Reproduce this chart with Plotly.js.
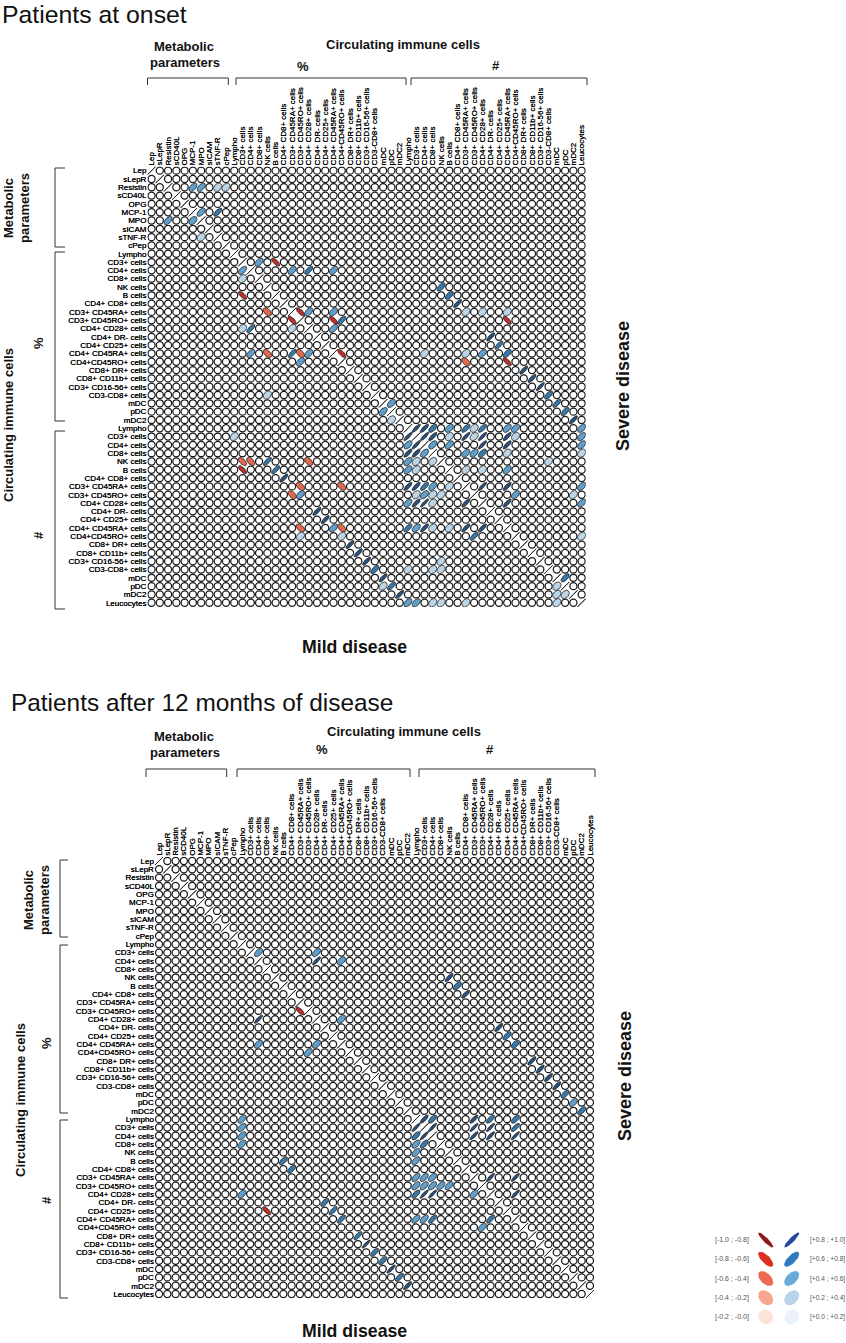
<!DOCTYPE html>
<html>
<head>
<meta charset="utf-8">
<script src="https://cdn.plot.ly/plotly-3.0.1.min.js"></script>
<style>html,body{margin:0;padding:0;background:#fff}#chart{width:846px;height:1343px}</style>
</head>
<body>
<div id="chart"></div>
<script>
var metabolicLabels = ['Lep','sLepR','Resistin','sCD40L','OPG','MCP-1','MPO','sICAM','sTNF-R','cPep'];
var cellLabels = ['Lympho','CD3+ cells','CD4+ cells','CD8+ cells','NK cells','B cells','CD4+ CD8+ cells',
  'CD3+ CD45RA+ cells','CD3+ CD45RO+ cells','CD4+ CD28+ cells','CD4+ DR- cells','CD4+ CD25+ cells',
  'CD4+ CD45RA+ cells','CD4+CD45RO+ cells','CD8+ DR+ cells','CD8+ CD11b+ cells','CD3+ CD16-56+ cells',
  'CD3-CD8+ cells','mDC','pDC','mDC2'];
var lastLabel = ['Leucocytes'];
var allLabels = metabolicLabels.concat(cellLabels, cellLabels, lastLabel);

// [row, column, correlation]: every other off-diagonal cell reads as an empty circle
var onsetCells = [
 [2,5,.55],[2,6,.55],[2,8,.3],[2,9,.3],[5,6,.55],[5,8,.7],[6,2,.55],[6,5,.4],[8,6,.3],
 [11,13,.5],[11,15,-.72],[12,11,.55],[12,17,.5],[12,19,.7],[12,22,.5],[13,11,.3],[15,11,-.72],
 [17,14,-.5],[17,18,-.72],[17,19,.5],[17,22,.5],[18,17,-.72],[18,22,-.72],[18,23,.65],
 [19,11,.3],[19,12,.75],[19,17,.3],[19,22,.55],[22,12,.55],[22,14,-.5],[22,17,.75],[22,18,-.5],
 [22,19,.5],[22,23,-.72],[23,18,.5],[27,14,.3],
 [14,35,.6],[15,36,.6],[16,37,.8],[17,38,.3],[17,40,.3],[17,43,.3],[18,43,-.72],[20,41,.8],[21,42,.75],
 [22,33,.3],[22,38,.3],[22,40,.5],[22,43,.6],[23,38,-.5],[23,43,-.72],[24,45,.8],[25,46,.8],[26,47,.85],
 [27,48,.65],[28,49,.7],[29,50,.65],[30,51,.8],[28,29,.5],[29,28,.5],[30,29,.3],
 [32,10,.3],[35,11,-.6],[35,12,-.5],[35,14,.75],[35,19,-.5],[36,11,-.72],[36,15,.75],[37,16,.8],
 [38,18,-.5],[38,23,-.5],[39,17,-.5],[39,18,.5],[41,20,.8],[42,21,.8],[43,18,-.5],[43,22,.5],[43,23,-.5],
 [44,18,.3],[44,23,.3],[45,24,.8],[46,25,.8],[47,26,.8],
 [31,32,.85],[31,33,.8],[31,34,.6],[31,36,.5],[31,38,.7],[31,39,.3],[31,40,.7],[31,43,.5],[31,44,.5],[31,52,.5],
 [32,31,.85],[32,33,.85],[32,34,.8],[32,36,.3],[32,38,.85],[32,39,.35],[32,40,.85],[32,43,.8],[32,44,.3],[32,52,.5],
 [33,31,.5],[33,32,.85],[33,34,.5],[33,36,.5],[33,40,.85],[33,43,.8],[33,52,.5],
 [34,31,.8],[34,32,.8],[34,33,.5],[34,38,.5],[34,39,.5],[34,40,.6],[34,43,.3],[34,52,.3],
 [35,31,.5],[35,32,.3],[35,34,.3],[35,48,.3],
 [36,31,.5],[36,32,.3],[36,38,.3],[36,40,.3],[36,43,.5],
 [38,31,.8],[38,32,.8],[38,33,.7],[38,34,.5],[38,36,.3],[38,40,.85],[38,43,.8],[38,52,.5],
 [39,32,.3],[39,33,.5],[39,34,.3],[39,35,.3],[39,44,.5],[39,51,.3],
 [40,31,.5],[40,32,.8],[40,33,.88],[40,34,.3],[40,38,.8],[40,43,.8],[40,52,.5],
 [43,31,.7],[43,32,.5],[43,33,.8],[43,34,.3],[43,36,.3],[43,38,.8],[43,40,.8],
 [44,39,.7],[44,52,.3],
 [47,35,.3],[48,27,.65],[48,31,.3],[48,34,.3],[48,35,.3],[49,28,.8],[49,50,.65],
 [50,28,.3],[50,29,.7],[50,49,.3],[51,30,.8],[51,49,.3],[51,50,.3],
 [52,31,.5],[52,32,.5],[52,34,.3],[52,35,.3],[52,38,.3],[52,49,.3]
];
var laterCells = [
 [11,12,.55],[11,19,.55],[12,19,.85],[12,22,.5],[18,17,-.72],[19,12,.85],[19,22,.5],[22,12,.5],[22,19,.5],[23,18,.5],
 [14,35,.8],[15,36,.6],[16,37,.8],[20,41,.8],[21,42,.65],[22,43,.6],[24,45,.8],[25,46,.8],[26,47,.8],[27,48,.8],
 [28,49,.65],[29,50,.55],[30,51,.65],
 [31,10,.55],[32,10,.55],[33,10,.55],[34,10,.55],[36,15,.65],[37,16,.65],[40,10,.5],[41,20,.65],[42,13,-.72],
 [42,21,.75],[43,22,.7],[45,24,.75],[46,25,.88],[47,26,.7],[48,27,.65],[49,28,.85],[50,29,.7],[51,30,.8],
 [31,32,.8],[31,33,.65],[31,38,.8],[31,40,.7],[31,43,.65],
 [32,31,.88],[32,33,.88],[32,38,.88],[32,40,.88],[32,43,.75],
 [33,31,.65],[33,32,.88],[33,38,.85],[33,40,.85],[33,43,.88],
 [34,31,.55],[34,32,.65],[35,31,.55],[36,31,.55],
 [38,31,.55],[38,32,.55],[38,33,.55],[38,40,.85],[38,43,.85],
 [39,31,.55],[39,32,.55],[39,33,.55],[39,34,.55],[39,35,.55],
 [40,31,.65],[40,32,.88],[40,33,.88],[40,38,.55],[40,43,.85],
 [43,31,.55],[43,32,.55],[43,33,.7],[43,40,.7],[44,39,.55]
];

var legendValues = [-0.9,-0.7,-0.5,-0.3,-0.1,0.9,0.7,0.5,0.3,0.1];
var legendNegative = ['[-1.0 ; -0.8]','[-0.8 ; -0.6]','[-0.6 ; -0.4]','[-0.4 ; -0.2]','[-0.2 ; -0.0]'];
var legendPositive = ['[+0.8 ; +1.0]','[+0.6 ; +0.8]','[+0.4 ; +0.6]','[+0.2 ; +0.4]','[+0.0 ; +0.2]'];

var binEdges = [-1,-.8,-.6,-.4,-.2,0,.2,.4,.6,.8,1.0001];
var legendColors = ['#8f1a1c','#dc3025','#ec6a52','#f6a68f','#fde2d8','#eaf1fb','#b8d3ea','#68aad9','#2f7bc2','#22499e'];
var cellColors   = ['#a82420','#bf2e28','#e2694f','#f2a88f','#fde2d8','#eaf1fb','#bcd5e6','#5f9fcc','#3678a8','#27507c'];

function binOf(v){ for(var b=0;b<10;b++){ if(v>=binEdges[b] && v<binEdges[b+1]) return b; } return 9; }
function ring(cx,cy,r,hx,hy,xs,ys){
  var d=Math.acos(r);
  for(var k=0;k<=36;k++){
    var t=k/36*2*Math.PI;
    xs.push(cx+hx*Math.cos(t+d/2)); ys.push(cy-hy*Math.cos(t-d/2));
  }
  xs.push(null); ys.push(null);
}

function panelTraces(cells,ax,ay){
  var n=allLabels.length, traces=[], taken={}, bins={};
  cells.forEach(function(c){
    taken[c[0]+'_'+c[1]]=1;
    var b=binOf(c[2]); if(!bins[b]) bins[b]={x:[],y:[]};
    ring(c[1],c[0],c[2],0.5,0.5,bins[b].x,bins[b].y);
  });
  var cx=[],cy=[],dx=[],dy=[];
  for(var i=0;i<n;i++){ for(var j=0;j<n;j++){
    if(i===j){ ring(j,i,1,0.5,0.5,dx,dy); continue; }
    if(!taken[i+'_'+j]){ cx.push(j); cy.push(i); }
  }}
  traces.push({type:'scatter',mode:'markers',x:cx,y:cy,xaxis:ax,yaxis:ay,hoverinfo:'skip',showlegend:false,
    marker:{symbol:'circle',size:7.1,color:'#fff',line:{color:'#1a1a1a',width:1.25}}});
  traces.push({type:'scatter',mode:'lines',x:dx,y:dy,xaxis:ax,yaxis:ay,hoverinfo:'skip',showlegend:false,
    line:{color:'#222',width:0.9}});
  Object.keys(bins).forEach(function(b){
    traces.push({type:'scatter',mode:'lines',fill:'toself',fillcolor:cellColors[b],x:bins[b].x,y:bins[b].y,
      xaxis:ax,yaxis:ay,hoverinfo:'skip',showlegend:false,line:{color:'#222',width:0.8}});
  });
  return traces;
}

var data = panelTraces(onsetCells,'x','y').concat(panelTraces(laterCells,'x2','y2'));
legendValues.forEach(function(v,idx){
  var xs=[],ys=[];
  ring(idx<5?0:1, idx%5, v, 0.288, 0.389, xs, ys);
  data.push({type:'scatter',mode:'lines',fill:'toself',fillcolor:legendColors[binOf(v)],x:xs,y:ys,
    xaxis:'x3',yaxis:'y3',hoverinfo:'skip',showlegend:false,line:{width:0}});
});

var W=846,H=1343;
function fx(p){return p/W;} function fy(p){return 1-p/H;}
function xDom(a,b){return [fx(a),fx(b)];} function yDom(top,bottom){return [fy(bottom),fy(top)];}
var tickIdx = allLabels.map(function(_,i){return i;});
var tickFont = {family:'Liberation Sans, Arial, sans-serif',size:8,color:'#000',shadow:'0 0 0.5px #000'};
function matX(dom,anchor){return {domain:dom,anchor:anchor,range:[-0.5,52.5],side:'top',tickmode:'array',tickvals:tickIdx,ticktext:allLabels,
  tickangle:-90,tickfont:tickFont,ticks:'',showgrid:false,zeroline:false,showline:false,automargin:false,fixedrange:true};}
function matY(dom,anchor){return {domain:dom,anchor:anchor,range:[52.5,-0.5],tickmode:'array',tickvals:tickIdx,ticktext:allLabels,
  tickfont:tickFont,ticks:'',showgrid:false,zeroline:false,showline:false,automargin:false,fixedrange:true};}

var bold='Liberation Sans, Arial, sans-serif';
function note(text,x,y,size,opts){
  opts=opts||{};
  return {xref:'paper',yref:'paper',x:fx(x),y:fy(y),text:text,showarrow:false,xanchor:opts.xa||'center',yanchor:'middle',
    textangle:opts.rot||0,align:opts.align||'center',
    font:{family:bold,size:size,color:opts.color||'#111',weight:opts.w===undefined?700:opts.w}};
}
var annotations=[
  note('Patients at onset',0,14,24.8,{xa:'left',w:400}),
  note('Patients after 12 months of disease',9,702,24.4,{xa:'left',w:400}),
  note('Metabolic',184,46,13), note('parameters',184.5,62.5,13),
  note('Circulating immune cells',403,45,13), note('%',303,66,13), note('#',496,65,13),
  note('Metabolic',184,736,13), note('parameters',184.5,752.5,13),
  note('Circulating immune cells',404,731,13), note('%',322,749,13), note('#',490,749,13),
  note('Metabolic',8,208,13,{rot:-90}), note('parameters',24,208,13,{rot:-90}),
  note('Circulating immune cells',8,425,13,{rot:-90}), note('%',38,343,13,{rot:-90}), note('#',38,535,13,{rot:-90}),
  note('Metabolic',28,900,13,{rot:-90}), note('parameters',44,900,13,{rot:-90}),
  note('Circulating immune cells',20,1100,13,{rot:-90}), note('%',46,1043,13,{rot:-90}), note('#',46,1200,13,{rot:-90}),
  note('Severe disease',623,386,18,{rot:-90}), note('Severe disease',625,1076,18,{rot:-90}),
  note('Mild disease',354,647,17.7), note('Mild disease',354,1331,17.7)
];
legendNegative.forEach(function(t,i){
  annotations.push({xref:'x3',yref:'y3',x:-0.55,y:i,text:t,showarrow:false,xanchor:'right',yanchor:'middle',
    font:{family:'Liberation Sans, Arial, sans-serif',size:7,color:'#555'}});
});
legendPositive.forEach(function(t,i){
  annotations.push({xref:'x3',yref:'y3',x:1.62,y:i,text:t,showarrow:false,xanchor:'left',yanchor:'middle',
    font:{family:'Liberation Sans, Arial, sans-serif',size:6.6,color:'#555'}});
});

function hBracket(a,b,top,bottom){
  return {type:'path',xref:'paper',yref:'paper',line:{color:'#333',width:1},
    path:'M'+fx(a)+','+fy(bottom)+' L'+fx(a)+','+fy(top)+' L'+fx(b)+','+fy(top)+' L'+fx(b)+','+fy(bottom)};
}
function vBracket(left,right,a,b){
  return {type:'path',xref:'paper',yref:'paper',line:{color:'#333',width:1},
    path:'M'+fx(right)+','+fy(a)+' L'+fx(left)+','+fy(a)+' L'+fx(left)+','+fy(b)+' L'+fx(right)+','+fy(b)};
}
var shapes=[
  hBracket(147.5,228.3,78,85),hBracket(236,406,78,85),hBracket(411,587,78,85),
  hBracket(146,226.7,769,777),hBracket(237,410,769,777),hBracket(419,595,769,777),
  vBracket(55,65,168,247),vBracket(55,65,252,421),vBracket(55,65,431,609),
  vBracket(60,68,860,937),vBracket(60,68,945,1113),vBracket(60,68,1120,1298)
];

var layout={
  width:W,height:H,margin:{l:0,r:0,t:0,b:0,pad:0},paper_bgcolor:'#fff',plot_bgcolor:'rgba(0,0,0,0)',showlegend:false,
  xaxis:matX(xDom(147.4,585.8),'y'), yaxis:matY(yDom(166.5,606.9),'x'),
  xaxis2:matX(xDom(154.9,594.1),'y2'), yaxis2:matY(yDom(856.8,1298.2),'x2'),
  xaxis3:{domain:xDom(739.7,817.7),anchor:'y3',range:[-1,2],visible:false,fixedrange:true},
  yaxis3:{domain:yDom(1220.75,1336.25),anchor:'x3',range:[5,-1],visible:false,fixedrange:true},
  annotations:annotations,shapes:shapes
};
Plotly.newPlot('chart',data,layout,{displayModeBar:false,staticPlot:true});
</script>
</body>
</html>
